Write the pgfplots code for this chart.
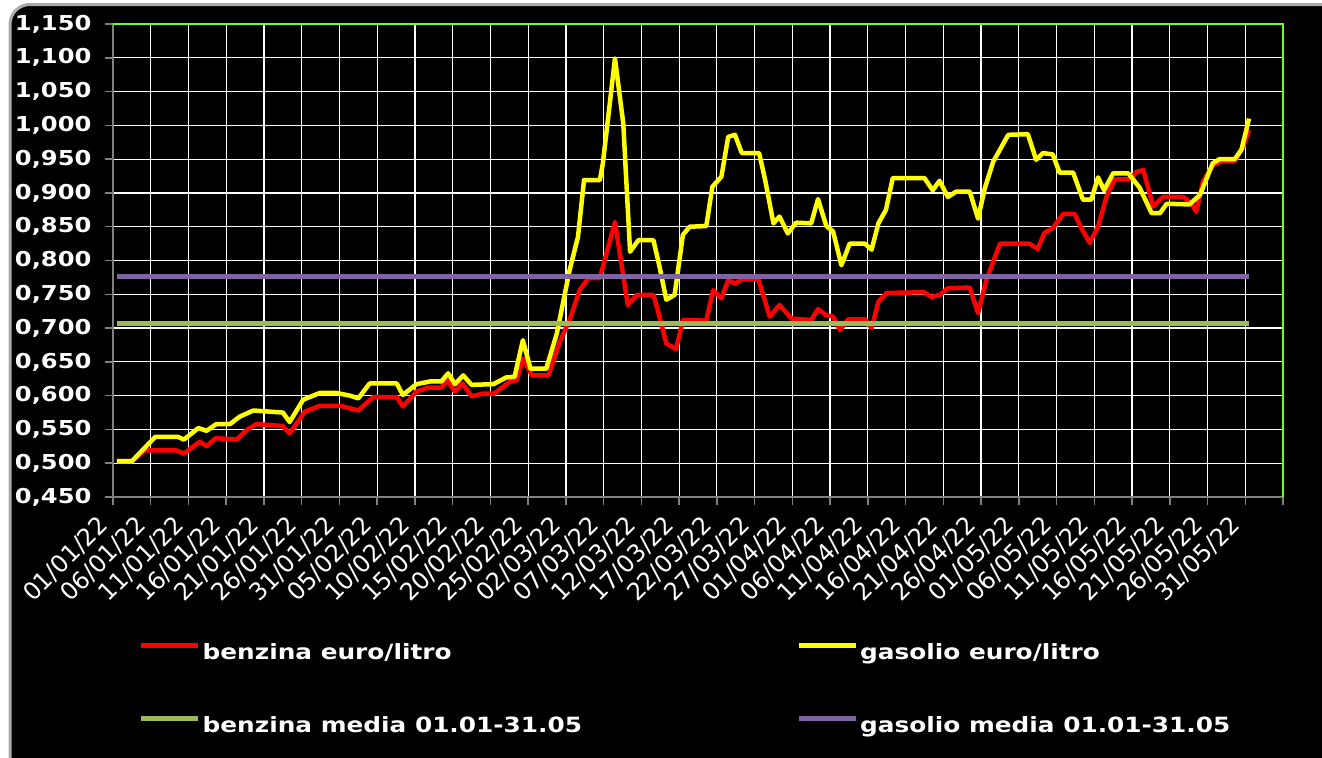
\documentclass[border=0pt]{standalone}
\usepackage{fontspec}
\setmainfont{DejaVu Sans}
\newfontfamily\stretchbold{DejaVu Sans}[FakeStretch=1.18]
\usepackage{pgfplots}
\pgfplotsset{compat=1.18}

\definecolor{benz}{RGB}{255,0,0}
\definecolor{gas}{RGB}{255,255,0}
\definecolor{bmed}{RGB}{155,187,89}
\definecolor{gmed}{RGB}{128,100,162}
\definecolor{plotgreen}{RGB}{102,255,51}
\definecolor{axgray}{RGB}{128,128,128}
\definecolor{framegray}{RGB}{170,170,170}

\pgfplotstableread{
d v
0 0.503
2 0.503
3.7 0.519
7.9 0.519
8.9 0.514
11 0.532
11.9 0.525
13.1 0.537
15.9 0.535
17.2 0.549
18.5 0.558
22 0.555
22.9 0.544
24.9 0.576
26.9 0.585
29.6 0.585
32 0.578
34 0.598
37.1 0.598
37.9 0.584
39.7 0.606
41.3 0.612
43 0.612
43.8 0.623
44.8 0.606
45.8 0.618
47 0.599
48.5 0.603
50 0.603
52.1 0.621
53 0.623
53.8 0.655
55 0.630
57.2 0.630
58.7 0.680
60 0.712
61.3 0.756
62.5 0.774
64 0.774
66 0.857
67.7 0.734
68.9 0.749
71.1 0.749
71.9 0.717
72.8 0.677
74.1 0.669
75 0.712
78.1 0.711
79 0.756
80.1 0.744
81 0.771
81.9 0.766
82.8 0.772
85 0.772
86.5 0.717
87.8 0.734
89.4 0.714
92 0.712
92.9 0.728
94 0.719
94.9 0.717
95.8 0.697
96.9 0.713
99.1 0.713
100 0.700
100.9 0.739
102 0.752
107 0.753
107.9 0.746
109 0.749
110.1 0.759
113 0.760
114.1 0.722
115.2 0.771
117 0.825
120.9 0.825
122 0.817
122.9 0.841
124 0.848
125.4 0.869
126.9 0.869
127.8 0.848
128.9 0.826
130 0.850
131.1 0.894
132.2 0.920
134.2 0.920
135.1 0.931
136 0.934
137.3 0.880
138.6 0.894
141.3 0.894
142.4 0.884
143 0.872
143.9 0.917
145.2 0.941
146.4 0.947
148.1 0.947
149.2 0.968
150 0.993
}\benzina

\pgfplotstableread{
d v
0 0.503
2 0.503
5.1 0.539
8.1 0.539
8.9 0.535
10.8 0.552
11.9 0.548
13.2 0.558
15 0.558
16.3 0.569
18.1 0.578
22 0.575
22.9 0.561
24.7 0.594
26.9 0.604
29.1 0.604
30.9 0.600
32 0.596
33.5 0.618
37.1 0.618
37.9 0.601
39.7 0.617
41.5 0.621
43 0.621
43.9 0.633
44.8 0.617
45.9 0.630
47 0.616
49.9 0.617
51.6 0.627
52.7 0.628
53.8 0.682
54.8 0.640
56.9 0.640
58.3 0.692
60 0.786
61.1 0.835
61.9 0.919
64 0.919
64.4 0.944
66 1.099
67.1 1.003
68 0.813
69.1 0.830
71.1 0.830
71.9 0.791
72.8 0.742
73.9 0.749
75 0.838
75.9 0.850
78.1 0.851
78.9 0.909
80.1 0.924
81 0.983
81.9 0.986
82.8 0.959
85.1 0.959
85.9 0.919
87 0.855
87.8 0.865
88.9 0.840
90 0.856
92 0.855
92.9 0.891
94 0.851
94.9 0.843
96 0.793
97.1 0.825
99.1 0.825
100 0.816
100.9 0.855
101.9 0.875
102.8 0.922
107 0.922
108.1 0.904
109 0.918
110.1 0.894
111.2 0.902
113 0.902
114.1 0.862
115 0.907
116.1 0.946
118.1 0.986
120.7 0.987
121.8 0.949
122.7 0.959
124 0.957
124.9 0.930
126.7 0.930
128 0.890
129.1 0.890
130 0.923
130.8 0.904
132 0.929
134 0.929
135.5 0.908
137.1 0.870
138.2 0.870
139.1 0.884
142.1 0.883
143.5 0.897
144.4 0.922
145.2 0.944
146.1 0.950
148.1 0.950
149 0.964
150 1.010
}\gasolio

\begin{document}
\begin{tikzpicture}
\fill[white] (0,0) rectangle (1322bp,-758bp);
\useasboundingbox (0,0) rectangle (1322bp,-758bp);
\begin{scope}
\clip (0,0) rectangle (1322bp,-758bp);
\filldraw[fill=black, draw=framegray, line width=3bp, rounded corners=20bp] (10bp,-4.5bp) rectangle (1400bp,-820bp);
\end{scope}
\begin{axis}[
  name=ax,
  at={(113bp,-497bp)}, anchor=south west,
  scale only axis, width=1170bp, height=473bp,
  xmin=-0.5, xmax=154.5, ymin=0.45, ymax=1.15,
  axis x line*=bottom, axis y line*=left,
  axis line style={axgray, line width=1.5bp},
  xtick={-0.5,4.5,...,154.5},
  xticklabels={01/01/22,06/01/22,11/01/22,16/01/22,21/01/22,26/01/22,31/01/22,05/02/22,10/02/22,15/02/22,20/02/22,25/02/22,02/03/22,07/03/22,12/03/22,17/03/22,22/03/22,27/03/22,01/04/22,06/04/22,11/04/22,16/04/22,21/04/22,26/04/22,01/05/22,06/05/22,11/05/22,16/05/22,21/05/22,26/05/22,31/05/22,{}},
  ytick={0.45,0.5,0.55,0.6,0.65,0.7,0.75,0.8,0.85,0.9,0.95,1.0,1.05,1.1,1.15},
  grid=major, major grid style={white, line width=1.2bp},
  tick style={axgray, line width=1.5bp},
  major tick length=8bp, tick align=outside,
  yticklabel style={font=\stretchbold\bfseries\fontsize{20.5bp}{24bp}\selectfont, text=white, xshift=-10bp},
  xticklabel style={xshift=-9bp, yshift=-16bp, rotate=45, anchor=east, inner sep=0pt, font=\fontsize{24bp}{28bp}\selectfont, text=white},
  /pgf/number format/.cd, fixed, fixed zerofill, precision=3, use comma, assume math mode=true,
  /pgfplots/.cd,
  legend columns=2,
  legend cell align=left,
  legend style={at={(axis description cs:0.02222,-0.3087)}, anchor=north west, fill=none, draw=none, text=white,
    font=\stretchbold\bfseries\fontsize{21bp}{25bp}\selectfont, inner sep=0pt, column sep=2bp, row sep=52bp,
    nodes={inner sep=0pt, text height=16bp, text depth=5bp}},
  legend image code/.code={\draw[#1, line width=4.5bp] (0bp,8bp) -- (57bp,8bp);},
]
\addplot[benz, line width=4.5bp, line join=round, no markers] table[x=d, y=v] {\benzina};
\addlegendentry{\makebox[592bp][l]{benzina euro/litro}}
\addplot[gas, line width=4.5bp, line join=round, no markers] table[x=d, y=v] {\gasolio};
\addlegendentry{gasolio euro/litro}
\addplot[bmed, line width=5bp, no markers] coordinates {(0,0.707) (150,0.707)};
\addlegendentry{\makebox[592bp][l]{benzina media 01.01-31.05}}
\addplot[gmed, line width=5bp, no markers] coordinates {(0,0.777) (150,0.777)};
\addlegendentry{gasolio media 01.01-31.05}
\end{axis}
\draw[plotgreen, line width=1.5bp] (ax.north west) -- (ax.north east) -- (ax.south east);
\end{tikzpicture}
\end{document}
